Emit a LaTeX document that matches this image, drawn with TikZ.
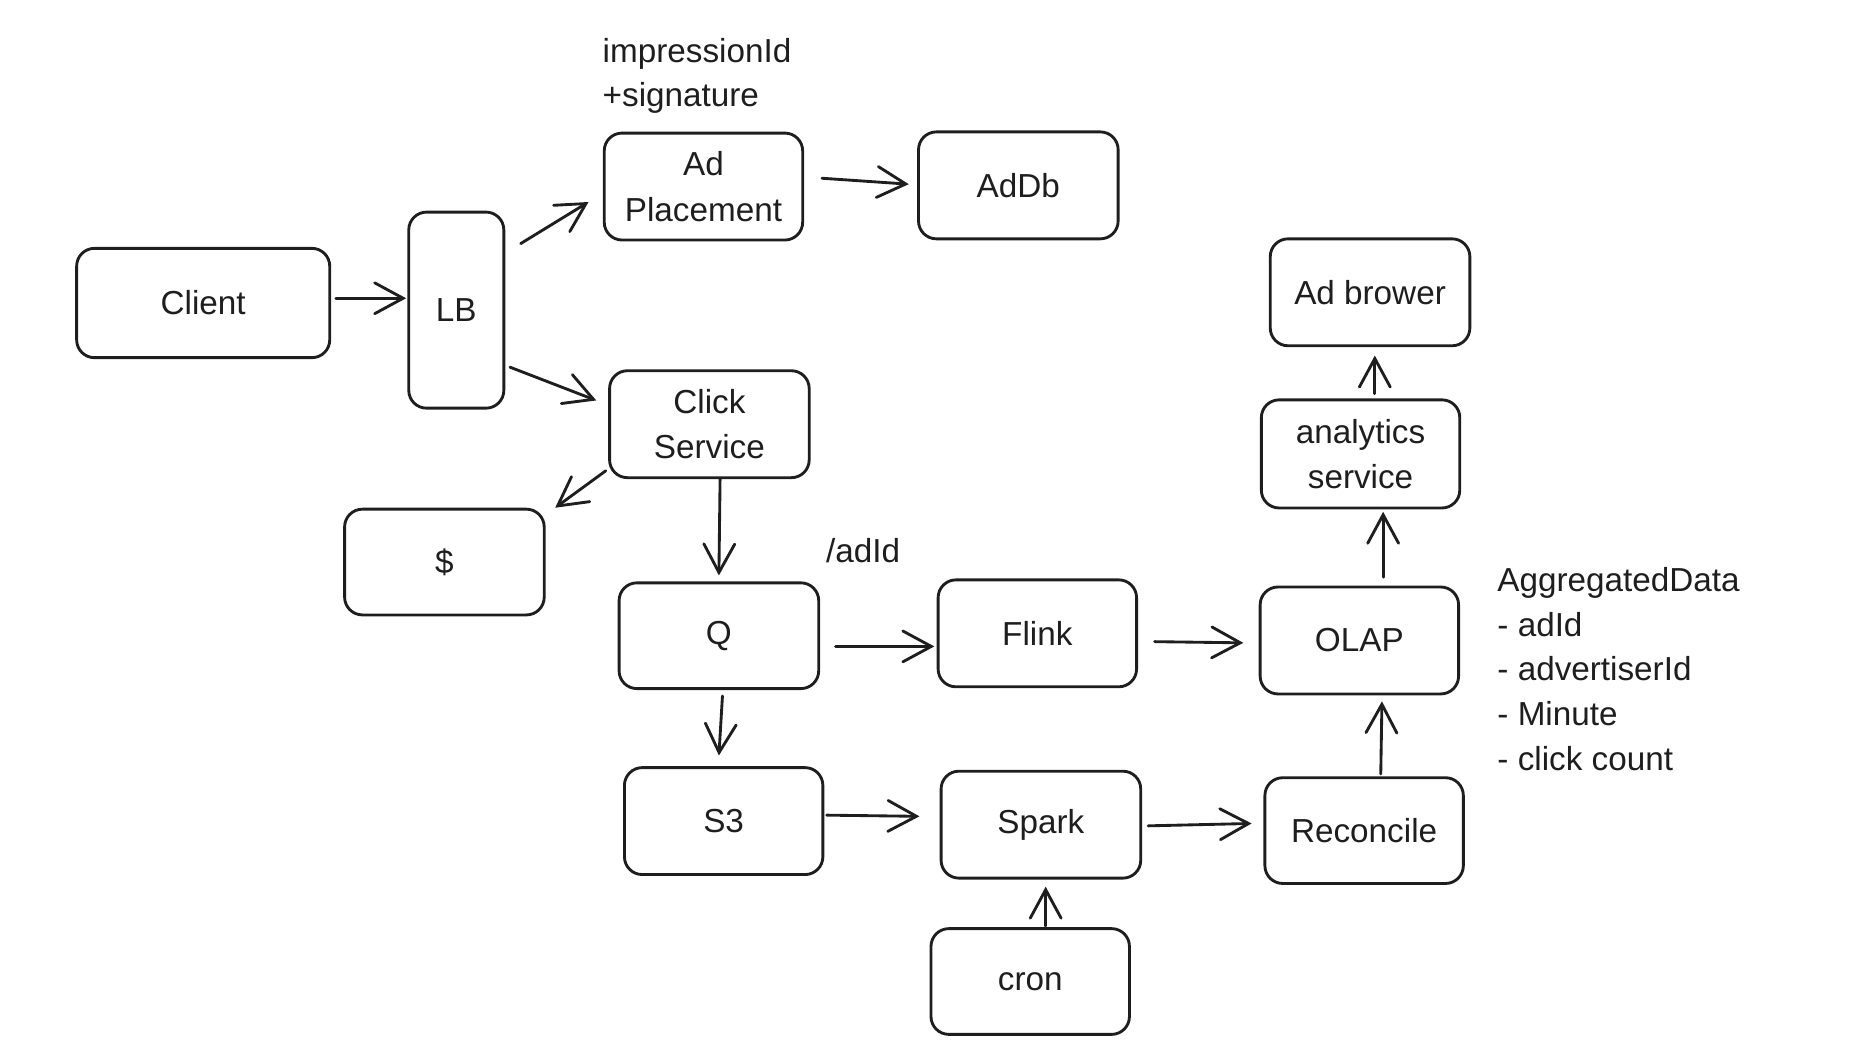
\documentclass[tikz,border=0pt]{standalone}
\usepackage{fontspec}
\setmainfont{Liberation Sans}
\usetikzlibrary{arrows.meta}
\definecolor{ink}{HTML}{1E1E1E}
\tikzset{
  box/.style={draw=ink, line width=2.4pt, rounded corners=15pt, align=center,
    text=ink, font=\fontsize{28}{38}\selectfont, inner sep=0pt},
  lbl/.style={text=ink, font=\fontsize{28}{37.5}\selectfont, inner sep=0pt, align=left},
  conn/.style={draw=ink, line width=2.4pt, line cap=round,
    -{Straight Barb[length=24pt,width=26pt,line cap=round]}}
}
\begin{document}
\begin{tikzpicture}[x=1pt,y=1pt]
\useasboundingbox (0,0) rectangle (1567,-888);
% boxes
\node[box, minimum width=213pt, minimum height=92pt] (client) at (171,-255) {Client};
\node[box, minimum width=80pt, minimum height=165pt] (lb) at (384,-261) {LB};
\node[box, minimum width=167pt, minimum height=90pt] (adp) at (592,-157) {Ad\\Placement};
\node[box, minimum width=168pt, minimum height=90pt] (addb) at (857,-156) {AdDb};
\node[box, minimum width=168pt, minimum height=90pt] (click) at (597,-357) {Click\\Service};
\node[box, minimum width=168pt, minimum height=89pt] (dollar) at (374,-473) {\$};
\node[box, minimum width=168pt, minimum height=89pt] (q) at (605,-535) {Q};
\node[box, minimum width=167pt, minimum height=90pt] (flink) at (873,-533) {Flink};
\node[box, minimum width=167pt, minimum height=90pt] (olap) at (1144,-539) {OLAP};
\node[box, minimum width=167pt, minimum height=91pt] (an) at (1145,-382) {analytics\\service};
\node[box, minimum width=168pt, minimum height=90pt] (adb) at (1153,-246) {Ad brower};
\node[box, minimum width=167pt, minimum height=90pt] (s3) at (609,-691) {S3};
\node[box, minimum width=168pt, minimum height=90pt] (spark) at (876,-694) {Spark};
\node[box, minimum width=167pt, minimum height=89pt] (rec) at (1148,-699) {Reconcile};
\node[box, minimum width=167pt, minimum height=89pt] (cron) at (867,-826) {cron};
% labels
\node[lbl, anchor=west] (implbl) at (507,-64) {impressionId\\+signature};
\node[lbl, anchor=west] (adidlbl) at (695,-463) {/adId};
\node[lbl, anchor=west] (agglbl) at (1260,-563) {AggregatedData\\- adId\\- advertiserId\\- Minute\\- click count};
% connectors
\draw[conn] ([xshift=4pt,yshift=4pt]client.east) -- ([xshift=-1pt,yshift=10pt]lb.west);
\draw[conn] ([xshift=13pt,yshift=56pt]lb.east) -- ([xshift=-12pt,yshift=-13pt]adp.west);
\draw[conn] ([xshift=4pt,yshift=-48pt]lb.east) -- ([xshift=-10pt,yshift=20pt]click.west);
\draw[conn] ([xshift=15pt,yshift=7pt]adp.east) -- ([xshift=-7pt,yshift=1pt]addb.west);
\draw[conn] ([xshift=-2pt,yshift=7pt]click.south west) -- ([xshift=8pt]dollar.north east);
\draw[conn] ([xshift=9pt]click.south) -- ([yshift=5pt]q.north);
\draw[conn] ([xshift=13pt,yshift=-9pt]q.east) -- ([xshift=-2pt,yshift=-11pt]flink.west);
\draw[conn] ([xshift=3pt,yshift=-5pt]q.south) -- ([xshift=-4pt,yshift=9pt]s3.north);
\draw[conn] ([xshift=14pt,yshift=-7pt]flink.east) -- ([xshift=-13pt,yshift=-2pt]olap.west);
\draw[conn] ([xshift=20pt,yshift=7pt]olap.north) -- ([xshift=19pt,yshift=-2pt]an.south);
\draw[conn] ([xshift=12pt,yshift=4pt]an.north) -- ([xshift=4pt,yshift=-7pt]adb.south);
\draw[conn] ([xshift=2pt,yshift=5pt]s3.east) -- ([xshift=-17pt,yshift=7pt]spark.west);
\draw[conn] ([xshift=5pt,yshift=-1pt]spark.east) -- ([xshift=-10pt,yshift=6pt]rec.west);
\draw[conn] ([xshift=14pt,yshift=2pt]rec.north) -- ([xshift=19pt,yshift=-5pt]olap.south);
\draw[conn] ([xshift=13pt,yshift=1pt]cron.north) -- ([xshift=4pt,yshift=-6pt]spark.south);
\end{tikzpicture}
\end{document}
